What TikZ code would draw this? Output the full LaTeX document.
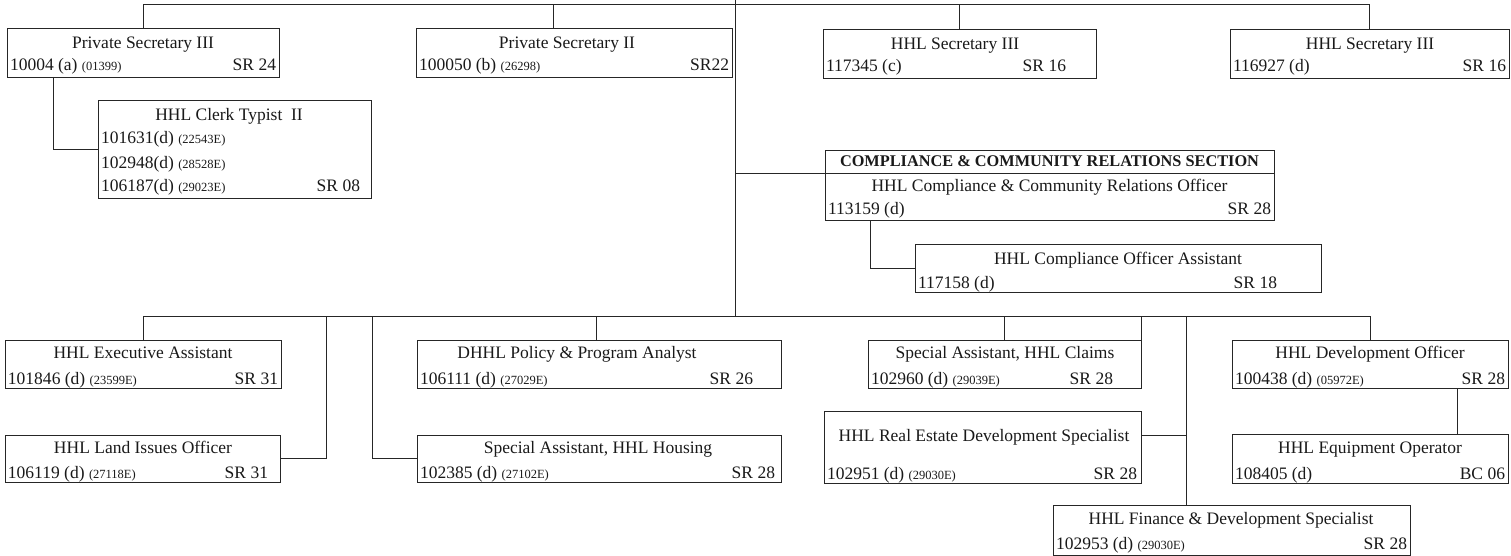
\documentclass[tikz,border=0pt]{standalone}
\usepackage{fontspec}
\setmainfont{Liberation Serif}
\usetikzlibrary{calc}
\newcommand{\tfont}{\fontsize{17.5}{20}\selectfont}
\newcommand{\smf}{\fontsize{12.5}{14}\selectfont}
\newcommand{\hdf}{\fontsize{16.3}{18}\selectfont\bfseries}
\begin{document}
\begin{tikzpicture}[x=1pt,y=-1pt,
  box/.style={draw=black!85, line width=0.9pt, inner sep=0pt, outer sep=0pt, anchor=north west},
  txt/.style={inner sep=0pt, outer sep=0pt, font=\tfont, anchor=base, text=black!90},
  lt/.style={txt, anchor=base west},
  rt/.style={txt, anchor=base east},
  hdr/.style={inner sep=0pt, font=\hdf, anchor=base, text=black!90},
  con/.style={draw=black!85, line width=0.9pt}]
\useasboundingbox (0,0) rectangle (1511,556);
\newcommand{\obox}[5]{\node[box, minimum width={#4-#2}, minimum height={#5-#3}] (#1) at (#2,#3) {};}

% boxes
\obox{ps3}{7}{28}{279}{77}
\obox{ps2}{416}{28}{732}{77}
\obox{secc}{823}{29}{1096}{78}
\obox{secd}{1230}{29}{1509}{78}
\obox{clerk}{98}{100}{371}{198}
\obox{comp}{825}{150}{1274}{220}
\obox{asst}{915}{244}{1321}{292}
\obox{exec}{5}{340}{281}{388}
\obox{policy}{417}{340}{781}{388}
\obox{claims}{868}{340}{1141}{388}
\obox{devoff}{1232}{340}{1508}{388}
\obox{land}{5}{435}{280}{482}
\obox{housing}{417}{435}{781}{482}
\obox{realest}{824}{411}{1141}{483}
\obox{equip}{1232}{434}{1508}{483}
\obox{fin}{1053}{505}{1410}{555}

% texts
\node[txt] (ps3t) at (143,49) {Private Secretary III};
\node[lt] (ps3c) at (10,71) {10004 (a) {\smf (01399)}};
\node[rt] (ps3r) at (276,71) {SR 24};

\node[txt] (ps2t) at (567,49) {Private Secretary II};
\node[lt] (ps2c) at (419,71) {100050 (b) {\smf (26298)}};
\node[rt] (ps2r) at (729,71) {SR22};

\node[txt] (secct) at (955,50) {HHL Secretary III};
\node[lt] (seccc) at (826,72) {117345 (c)};
\node[rt] (seccr) at (1066,72) {SR 16};

\node[txt] (secdt) at (1370,50) {HHL Secretary III};
\node[lt] (secdc) at (1233,72) {116927 (d)};
\node[rt] (secdr) at (1506,72) {SR 16};

\node[txt] (clerkt) at (229,121) {HHL Clerk Typist~ II};
\node[lt] (clerk1) at (101,144) {101631(d) {\smf (22543E)}};
\node[lt] (clerk2) at (101,169) {102948(d) {\smf (28528E)}};
\node[lt] (clerk3) at (101,191) {106187(d) {\smf (29023E)}};
\node[rt] (clerkr) at (360,191) {SR 08};

\node[hdr] (comph) at (1049.5,167) {COMPLIANCE \& COMMUNITY RELATIONS SECTION};
\node[txt] (compt) at (1049.5,191) {HHL Compliance \& Community Relations Officer};
\node[lt] (compc) at (828,214) {113159 (d)};
\node[rt] (compr) at (1271,214) {SR 28};

\node[txt] (asstt) at (1118,264) {HHL Compliance Officer Assistant};
\node[lt] (asstc) at (918,288) {117158 (d)};
\node[rt] (asstr) at (1277,288) {SR 18};

\node[txt] (exect) at (143,358) {HHL Executive Assistant};
\node[lt] (execc) at (8,384) {101846 (d) {\smf (23599E)}};
\node[rt] (execr) at (278,384) {SR 31};

\node[txt] (policyt) at (577,358) {DHHL Policy \& Program Analyst};
\node[lt] (policyc) at (420,384) {106111 (d) {\smf (27029E)}};
\node[rt] (policyr) at (753,384) {SR 26};

\node[txt] (claimst) at (1005,358) {Special Assistant, HHL Claims};
\node[lt] (claimsc) at (871,384) {102960 (d) {\smf (29039E)}};
\node[rt] (claimsr) at (1113,384) {SR 28};

\node[txt] (devofft) at (1370,358) {HHL Development Officer};
\node[lt] (devoffc) at (1235,384) {100438 (d) {\smf (05972E)}};
\node[rt] (devoffr) at (1505,384) {SR 28};

\node[txt] (landt) at (143,453) {HHL Land Issues Officer};
\node[lt] (landc) at (8,478) {106119 (d) {\smf (27118E)}};
\node[rt] (landr) at (268,478) {SR 31};

\node[txt] (housingt) at (598,453) {Special Assistant, HHL Housing};
\node[lt] (housingc) at (420,478) {102385 (d) {\smf (27102E)}};
\node[rt] (housingr) at (775,478) {SR 28};

\node[txt] (realestt) at (984,441) {HHL Real Estate Development Specialist};
\node[lt] (realestc) at (827,479) {102951 (d) {\smf (29030E)}};
\node[rt] (realestr) at (1137,479) {SR 28};

\node[txt] (equipt) at (1370,453) {HHL Equipment Operator};
\node[lt] (equipc) at (1235,479) {108405 (d)};
\node[rt] (equipr) at (1505,479) {BC 06};

\node[txt] (fint) at (1231,524) {HHL Finance \& Development Specialist};
\node[lt] (finc) at (1056,549) {102953 (d) {\smf (29030E)}};
\node[rt] (finr) at (1407,549) {SR 28};

% connector coordinates
\coordinate (topc) at (735,0);
\coordinate (tb) at (735,4.5);
\coordinate (bb) at (735,316);
\coordinate (cb) at (735,173);
\coordinate (ps2d) at (553,4.5);
\coordinate (pold) at (596,316);
\coordinate (landv) at (326,316);
\coordinate (housv) at (372,316);
\coordinate (finv) at (1186,316);
\coordinate (rej) at (1186,435);
\coordinate (devd) at (1457,388);

% header divider
\draw[con] (comp.west |- cb) -- (comp.east |- cb);

% central trunk
\draw[con] (topc) -- (bb);
% top bus
\draw[con] (ps3.north |- tb) -- (secd.north |- tb);
\draw[con] (ps3.north |- tb) -- (ps3.north);
\draw[con] (ps2d) -- (ps2d |- ps2.north);
\draw[con] (secc.north |- tb) -- (secc.north);
\draw[con] (secd.north |- tb) -- (secd.north);
% ps3 -> clerk
\draw[con] ($(ps3.south west)+(46,0)$) |- (clerk.west);
% compliance branch
\draw[con] (cb) -- (cb -| comp.west);
\draw[con] ($(comp.south west)+(45,0)$) |- (asst.west);
% bottom bus
\draw[con] (exec.north |- bb) -- (devoff.north |- bb);
\draw[con] (exec.north |- bb) -- (exec.north);
\draw[con] (pold) -- (pold |- policy.north);
\draw[con] (claims.north |- bb) -- (claims.north);
\draw[con] (claims.north east |- bb) -- (claims.north east);
\draw[con] (devoff.north |- bb) -- (devoff.north);
\draw[con] (landv) |- (land.east);
\draw[con] (housv) |- (housing.west);
\draw[con] (finv) -- (finv |- fin.north);
\draw[con] (rej -| realest.east) -- (rej);
\draw[con] (devd) -- (devd |- equip.north);
\end{tikzpicture}
\end{document}
